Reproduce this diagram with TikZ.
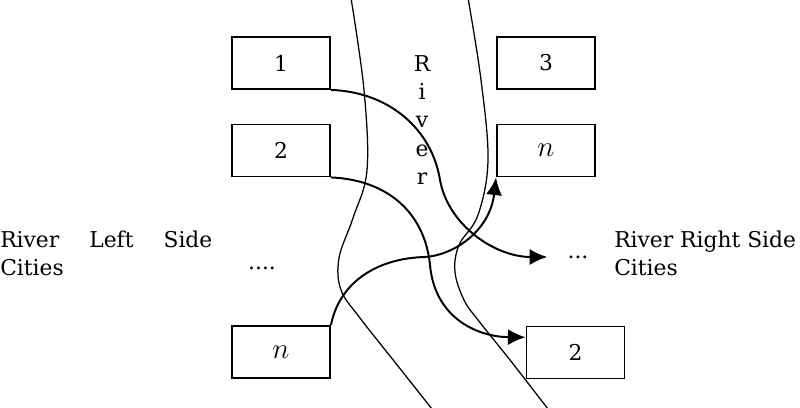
\documentclass[tikz,border=0pt]{standalone}
\usepackage{fontspec}
\setmainfont{DejaVu Serif}
\usetikzlibrary{arrows.meta}

\begin{document}
\begin{tikzpicture}[x=0.025cm,y=-0.025cm]
	\tikzset{city/.style = {shape=rectangle,draw,line width=1.3pt,
			minimum width=2.45cm,minimum height=1.3cm, inner sep = 0pt}}
	\tikzset{edge/.style = {-{Latex[length=4.4mm,width=4mm]}, line width=1.4pt}}
	\tikzset{bank/.style = {line width=0.9pt}}
	\tikzset{txt/.style = {font=\fontsize{15.5}{20}\selectfont, inner sep=0pt}}
	\tikzset{var/.style = {font=\fontsize{21}{24}\selectfont}}
	\useasboundingbox (0,0) rectangle (800,407);

	% cities
	\node[city, txt] (l1) at (281,63) {1};
	\node[city, txt] (l2) at (281,150.5) {2};
	\node[city, var] (ln) at (281,352) {$n$};
	\node[city, txt] (r3) at (546,63) {3};
	\node[city, var] (rn) at (546,150.5) {$n$};
	\node[city, txt] (r2) at (575.5,352.5) {2};

	\node[txt] (ldots) at (262,268) {....};
	\node[txt] (rdots) at (578,257) {...};

	\node[txt, text width=5.3cm, align=justify, anchor=north west] (lside) at (0,231) {River Left Side Cities};
	\node[txt, align=left, anchor=north west] (rside) at (614,231) {River Right Side\\Cities};
	\node[txt, align=center] (river) at (422,120) {R\\i\\v\\e\\r};

	% river banks
	\draw[bank] plot[smooth, tension=0.6] coordinates {(351,-2) (364,90) (367,170) (353,218) (339,258) (341,290) (360,318) (394,361) (432,409)};
	\draw[bank] plot[smooth, tension=0.6] coordinates {(468,-2) (481,80) (488,160) (478,215) (459,245) (455,272) (464,300) (478,320) (510,360) (548,409)};

	%edges
	\draw[edge, shorten >=5mm] (l1.south east) .. controls (390,92) and (432,130) .. (440,180)
		.. controls (448,225) and (495,257) .. (rdots.west);
	\draw[edge] (l2.south east) .. controls (390,180) and (425,215) .. (430,265)
		.. controls (435,320) and (480,337) .. (r2.163);
	\draw[edge] (ln.north east) .. controls (340,280) and (380,258) .. (425,257)
		.. controls (455,255) and (490,230) .. (rn.south west);

\end{tikzpicture}
\end{document}
